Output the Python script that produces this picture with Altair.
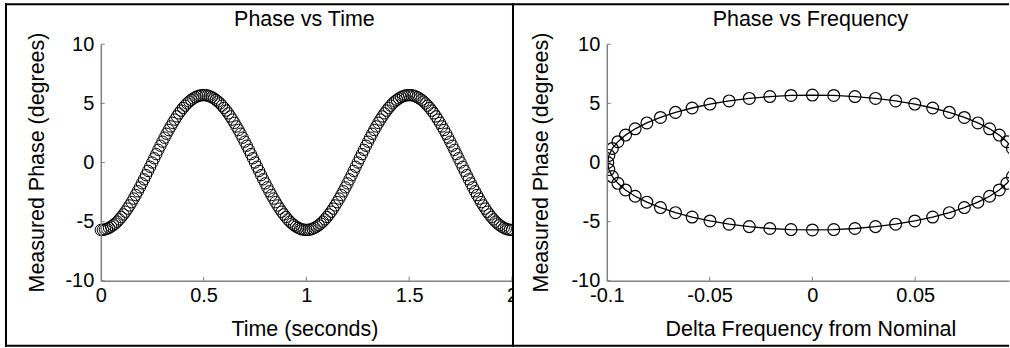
import altair as alt
import pandas as pd

# ---------------- data ----------------
time_s = [
    0.00, 0.01, 0.02, 0.03, 0.04, 0.05, 0.06, 0.07, 0.08, 0.09,
    0.10, 0.11, 0.12, 0.13, 0.14, 0.15, 0.16, 0.17, 0.18, 0.19,
    0.20, 0.21, 0.22, 0.23, 0.24, 0.25, 0.26, 0.27, 0.28, 0.29,
    0.30, 0.31, 0.32, 0.33, 0.34, 0.35, 0.36, 0.37, 0.38, 0.39,
    0.40, 0.41, 0.42, 0.43, 0.44, 0.45, 0.46, 0.47, 0.48, 0.49,
    0.50, 0.51, 0.52, 0.53, 0.54, 0.55, 0.56, 0.57, 0.58, 0.59,
    0.60, 0.61, 0.62, 0.63, 0.64, 0.65, 0.66, 0.67, 0.68, 0.69,
    0.70, 0.71, 0.72, 0.73, 0.74, 0.75, 0.76, 0.77, 0.78, 0.79,
    0.80, 0.81, 0.82, 0.83, 0.84, 0.85, 0.86, 0.87, 0.88, 0.89,
    0.90, 0.91, 0.92, 0.93, 0.94, 0.95, 0.96, 0.97, 0.98, 0.99,
    1.00, 1.01, 1.02, 1.03, 1.04, 1.05, 1.06, 1.07, 1.08, 1.09,
    1.10, 1.11, 1.12, 1.13, 1.14, 1.15, 1.16, 1.17, 1.18, 1.19,
    1.20, 1.21, 1.22, 1.23, 1.24, 1.25, 1.26, 1.27, 1.28, 1.29,
    1.30, 1.31, 1.32, 1.33, 1.34, 1.35, 1.36, 1.37, 1.38, 1.39,
    1.40, 1.41, 1.42, 1.43, 1.44, 1.45, 1.46, 1.47, 1.48, 1.49,
    1.50, 1.51, 1.52, 1.53, 1.54, 1.55, 1.56, 1.57, 1.58, 1.59,
    1.60, 1.61, 1.62, 1.63, 1.64, 1.65, 1.66, 1.67, 1.68, 1.69,
    1.70, 1.71, 1.72, 1.73, 1.74, 1.75, 1.76, 1.77, 1.78, 1.79,
    1.80, 1.81, 1.82, 1.83, 1.84, 1.85, 1.86, 1.87, 1.88, 1.89,
    1.90, 1.91, 1.92, 1.93, 1.94, 1.95, 1.96, 1.97, 1.98, 1.99,
    2.00,
]
phase_time = [
    -5.70, -5.69, -5.66, -5.60, -5.52, -5.42, -5.30, -5.16, -5.00, -4.81,
    -4.61, -4.39, -4.16, -3.90, -3.63, -3.35, -3.05, -2.75, -2.43, -2.10,
    -1.76, -1.42, -1.07, -0.71, -0.36, 0.00, 0.36, 0.71, 1.07, 1.42,
    1.76, 2.10, 2.43, 2.75, 3.05, 3.35, 3.63, 3.90, 4.16, 4.39,
    4.61, 4.81, 5.00, 5.16, 5.30, 5.42, 5.52, 5.60, 5.66, 5.69,
    5.70, 5.69, 5.66, 5.60, 5.52, 5.42, 5.30, 5.16, 5.00, 4.81,
    4.61, 4.39, 4.16, 3.90, 3.63, 3.35, 3.05, 2.75, 2.43, 2.10,
    1.76, 1.42, 1.07, 0.71, 0.36, 0.00, -0.36, -0.71, -1.07, -1.42,
    -1.76, -2.10, -2.43, -2.75, -3.05, -3.35, -3.63, -3.90, -4.16, -4.39,
    -4.61, -4.81, -5.00, -5.16, -5.30, -5.42, -5.52, -5.60, -5.66, -5.69,
    -5.70, -5.69, -5.66, -5.60, -5.52, -5.42, -5.30, -5.16, -5.00, -4.81,
    -4.61, -4.39, -4.16, -3.90, -3.63, -3.35, -3.05, -2.75, -2.43, -2.10,
    -1.76, -1.42, -1.07, -0.71, -0.36, 0.00, 0.36, 0.71, 1.07, 1.42,
    1.76, 2.10, 2.43, 2.75, 3.05, 3.35, 3.63, 3.90, 4.16, 4.39,
    4.61, 4.81, 5.00, 5.16, 5.30, 5.42, 5.52, 5.60, 5.66, 5.69,
    5.70, 5.69, 5.66, 5.60, 5.52, 5.42, 5.30, 5.16, 5.00, 4.81,
    4.61, 4.39, 4.16, 3.90, 3.63, 3.35, 3.05, 2.75, 2.43, 2.10,
    1.76, 1.42, 1.07, 0.71, 0.36, 0.00, -0.36, -0.71, -1.07, -1.42,
    -1.76, -2.10, -2.43, -2.75, -3.05, -3.35, -3.63, -3.90, -4.16, -4.39,
    -4.61, -4.81, -5.00, -5.16, -5.30, -5.42, -5.52, -5.60, -5.66, -5.69,
    -5.70,
]
freq_delta = [
    0.0000, 0.0104, 0.0207, 0.0307, 0.0405, 0.0498, 0.0585, 0.0666, 0.0739, 0.0805,
    0.0862, 0.0909, 0.0946, 0.0973, 0.0990, 0.0995, 0.0990, 0.0973, 0.0946, 0.0909,
    0.0862, 0.0805, 0.0739, 0.0666, 0.0585, 0.0498, 0.0405, 0.0307, 0.0207, 0.0104,
    0.0000, -0.0104, -0.0207, -0.0307, -0.0405, -0.0498, -0.0585, -0.0666, -0.0739, -0.0805,
    -0.0862, -0.0909, -0.0946, -0.0973, -0.0990, -0.0995, -0.0990, -0.0973, -0.0946, -0.0909,
    -0.0862, -0.0805, -0.0739, -0.0666, -0.0585, -0.0498, -0.0405, -0.0307, -0.0207, -0.0104,
]
phase_freq = [
    5.70, 5.67, 5.58, 5.42, 5.21, 4.94, 4.61, 4.24, 3.81, 3.35,
    2.85, 2.32, 1.76, 1.19, 0.60, 0.00, -0.60, -1.19, -1.76, -2.32,
    -2.85, -3.35, -3.81, -4.24, -4.61, -4.94, -5.21, -5.42, -5.58, -5.67,
    -5.70, -5.67, -5.58, -5.42, -5.21, -4.94, -4.61, -4.24, -3.81, -3.35,
    -2.85, -2.32, -1.76, -1.19, -0.60, 0.00, 0.60, 1.19, 1.76, 2.32,
    2.85, 3.35, 3.81, 4.24, 4.61, 4.94, 5.21, 5.42, 5.58, 5.67,
]

time_ticks = [0, 0.5, 1, 1.5, 2]
freq_ticks = [-0.1, -0.05, 0, 0.05]
phase_ticks = [-10, -5, 0, 5, 10]

left_title = "Phase vs Time"
right_title = "Phase vs Frequency"
left_xlabel = "Time (seconds)"
right_xlabel = "Delta Frequency from Nominal"
ylabel = "Measured Phase (degrees)"

# ---------------- styling ----------------
FONT = "Liberation Sans"
AXC = "#808080"
H = 237
WL = 412
WR = 403
TOP = -40
BOT = 302
TICKFS = 20
TITLEFS = 21.5

one = pd.DataFrame({"a": [0]})


def make_axes(xvals, xtitle, ytitle_x):
    xaxis = alt.Axis(
        values=xvals, ticks=False, tickSize=0, grid=False, domainColor=AXC,
        domainWidth=1.5, labelFontSize=TICKFS, labelColor="black", labelPadding=5,
        labelFlush=False, labelOverlap=False, labelExpr="'' + datum.value",
        title=xtitle, titleFontSize=TITLEFS, titleFontWeight="normal", titleColor="black",
        titleX=204, titleY=55, titleBaseline="alphabetic", titleAlign="center", zindex=1,
    )
    yaxis = alt.Axis(
        values=phase_ticks, ticks=False, tickSize=0, grid=False, domainColor=AXC,
        domainWidth=1.5, labelFontSize=TICKFS, labelColor="black", labelPadding=7,
        labelFlush=False, labelOverlap=False, labelExpr="'' + datum.value",
        title=ylabel, titleFontSize=TITLEFS, titleFontWeight="normal", titleColor="black",
        titleAngle=270, titleX=ytitle_x, titleY=118, titleBaseline="alphabetic",
        titleAlign="center", zindex=1,
    )
    return xaxis, yaxis


def hrule(x1, x2, y):
    return alt.Chart(one).mark_rule(color="black", strokeWidth=2, strokeCap="square").encode(
        x=alt.value(x1), x2=alt.value(x2), y=alt.value(y))


def vrule(x, y1, y2):
    return alt.Chart(one).mark_rule(color="black", strokeWidth=2, strokeCap="square").encode(
        x=alt.value(x), y=alt.value(y1), y2=alt.value(y2))


def title_text(txt):
    return alt.Chart(one).mark_text(font=FONT, fontSize=TITLEFS, color="black",
                                    baseline="alphabetic", align="center").encode(
        x=alt.value(204), y=alt.value(-18), text=alt.value(txt))


# ---------------- left panel ----------------
xs_l = alt.Scale(domain=[0, 2], nice=False, zero=False)
ys = alt.Scale(domain=[-10, 10], nice=False, zero=False)
xa_l, ya_l = make_axes(time_ticks, left_xlabel, -57)

df_l = pd.DataFrame({"x": time_s, "y": phase_time})
pts_l = alt.Chart(df_l).mark_point(shape="circle", filled=False, color="black",
                                   size=130, strokeWidth=1, opacity=1).encode(
    x=alt.X("x:Q", scale=xs_l, axis=xa_l),
    y=alt.Y("y:Q", scale=ys, axis=ya_l),
)
xt_l = alt.Chart(pd.DataFrame({"x": time_ticks[1:]})).mark_rule(color=AXC, strokeWidth=1).encode(
    x=alt.X("x:Q", scale=xs_l, axis=xa_l), y=alt.value(H - 4), y2=alt.value(H))
yt_l = alt.Chart(pd.DataFrame({"y": phase_ticks})).mark_rule(color=AXC, strokeWidth=1).encode(
    y=alt.Y("y:Q", scale=ys, axis=ya_l), x=alt.value(0), x2=alt.value(4))

left = alt.layer(
    vrule(-95, TOP, BOT), hrule(-95, 413, TOP), hrule(-95, 413, BOT),
    title_text(left_title), pts_l, xt_l, yt_l,
).properties(width=WL, height=H)

# ---------------- right panel ----------------
xs_r = alt.Scale(domain=[-0.1, 0.09563], nice=False, zero=False)
xa_r, ya_r = make_axes(freq_ticks, right_xlabel, -59)

df_r = pd.DataFrame({"x": freq_delta, "y": phase_freq, "i": list(range(len(freq_delta)))})
df_line = pd.DataFrame({
    "x": freq_delta + [freq_delta[0]],
    "y": phase_freq + [phase_freq[0]],
    "i": list(range(len(freq_delta) + 1)),
})
bg = alt.Chart(one).mark_rect(color="white", opacity=1).encode(
    x=alt.value(-94), x2=alt.value(404), y=alt.value(TOP - 1), y2=alt.value(BOT + 1))
line_r = alt.Chart(df_line).mark_line(color="black", strokeWidth=1.3, clip=True).encode(
    x=alt.X("x:Q", scale=xs_r, axis=xa_r),
    y=alt.Y("y:Q", scale=ys, axis=ya_r),
    order="i:Q",
)
pts_r = alt.Chart(df_r).mark_point(shape="circle", filled=False, color="black",
                                   size=140, strokeWidth=1.2, opacity=1, clip=True).encode(
    x=alt.X("x:Q", scale=xs_r, axis=xa_r),
    y=alt.Y("y:Q", scale=ys, axis=ya_r),
)
xt_r = alt.Chart(pd.DataFrame({"x": freq_ticks[1:]})).mark_rule(color=AXC, strokeWidth=1).encode(
    x=alt.X("x:Q", scale=xs_r, axis=xa_r), y=alt.value(H - 4), y2=alt.value(H))
yt_r = alt.Chart(pd.DataFrame({"y": phase_ticks})).mark_rule(color=AXC, strokeWidth=1).encode(
    y=alt.Y("y:Q", scale=ys, axis=ya_r), x=alt.value(0), x2=alt.value(4))

right = alt.layer(
    bg, vrule(-94, TOP, BOT), hrule(-94, 402, TOP), hrule(-94, 402, BOT),
    title_text(right_title), line_r, pts_r, xt_r, yt_r,
).properties(width=WR, height=H)

chart = alt.hconcat(left, right, spacing=95, bounds="flush").properties(
    padding={"left": 4, "top": 2, "right": 0, "bottom": 0},
    background="white",
).configure(font=FONT).configure_view(stroke=None)

chart.save("out.html", embed_options={"renderer": "svg", "actions": False})
